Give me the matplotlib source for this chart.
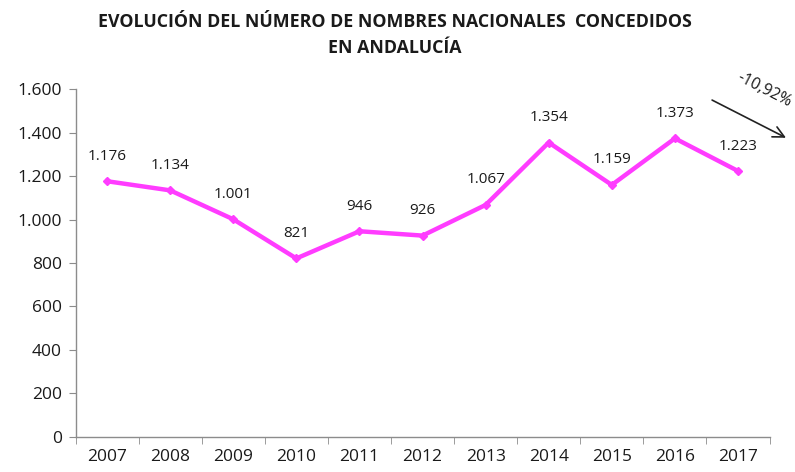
import matplotlib
matplotlib.use('Agg')
import matplotlib.pyplot as plt
from matplotlib.ticker import FuncFormatter

plt.rcParams['font.family'] = ['Open Sans', 'DejaVu Sans']

years = ['2007', '2008', '2009', '2010', '2011', '2012',
         '2013', '2014', '2015', '2016', '2017']
nombres = [1176, 1134, 1001, 821, 946, 926, 1067, 1354, 1159, 1373, 1223]
y_ticks = [0, 200, 400, 600, 800, 1000, 1200, 1400, 1600]
variacion = '-10,92%'

LINE_COLOR = '#FF3CFF'
AXIS_COLOR = '#8C8C8C'
TEXT_COLOR = '#1A1A1A'


def miles(v, _pos=None):
    # separador de miles con punto
    return f'{int(v):,}'.replace(',', '.')


fig = plt.figure(figsize=(7.95, 4.72), dpi=100)
fig.patch.set_facecolor('white')
ax = fig.add_axes([0.095, 0.0742, 0.873, 0.7372])

x = list(range(len(years)))
ax.plot(x, nombres, color=LINE_COLOR, lw=3.2, marker='D', ms=4,
        solid_joinstyle='miter', zorder=3)

for xi, v in zip(x, nombres):
    ax.annotate(miles(v), (xi, v), textcoords='offset points', xytext=(0, 18),
                ha='center', va='center', fontsize=11, color=TEXT_COLOR)

ax.set_xlim(-0.5, len(years) - 0.5)
ax.set_ylim(0, 1600)
ax.set_yticks(y_ticks)
ax.yaxis.set_major_formatter(FuncFormatter(miles))
ax.set_xticks(x)
ax.set_xticklabels(years)
ax.set_xticks([i - 0.5 for i in range(len(years) + 1)], minor=True)

for side in ('top', 'right'):
    ax.spines[side].set_visible(False)
for side in ('left', 'bottom'):
    ax.spines[side].set_color(AXIS_COLOR)
    ax.spines[side].set_linewidth(1.0)

ax.tick_params(axis='y', direction='out', length=5, color=AXIS_COLOR,
               labelsize=12.5, labelcolor=TEXT_COLOR, pad=5)
ax.tick_params(axis='x', which='major', length=0, labelsize=12.5,
               labelcolor=TEXT_COLOR, pad=9)
ax.tick_params(axis='x', which='minor', direction='out', length=5,
               color=AXIS_COLOR)

fig.text(0.497, 0.953, 'EVOLUCIÓN DEL NÚMERO DE NOMBRES NACIONALES  CONCEDIDOS',
         ha='center', va='center', fontsize=12.8, fontweight='bold',
         color=TEXT_COLOR)
fig.text(0.497, 0.898, 'EN ANDALUCÍA', ha='center', va='center',
         fontsize=12.8, fontweight='bold', color=TEXT_COLOR)

# flecha de variación interanual
ax.annotate('', xy=(10.8, 1370), xytext=(9.55, 1555),
            xycoords='data', textcoords='data',
            arrowprops=dict(arrowstyle='->', color='#222222', lw=1.2,
                            mutation_scale=20),
            annotation_clip=False)
ax.text(10.42, 1595, variacion, rotation=-27, ha='center', va='center',
        fontsize=11.5, color=TEXT_COLOR, clip_on=False)

fig.savefig('out.png', dpi=100, facecolor='white')
